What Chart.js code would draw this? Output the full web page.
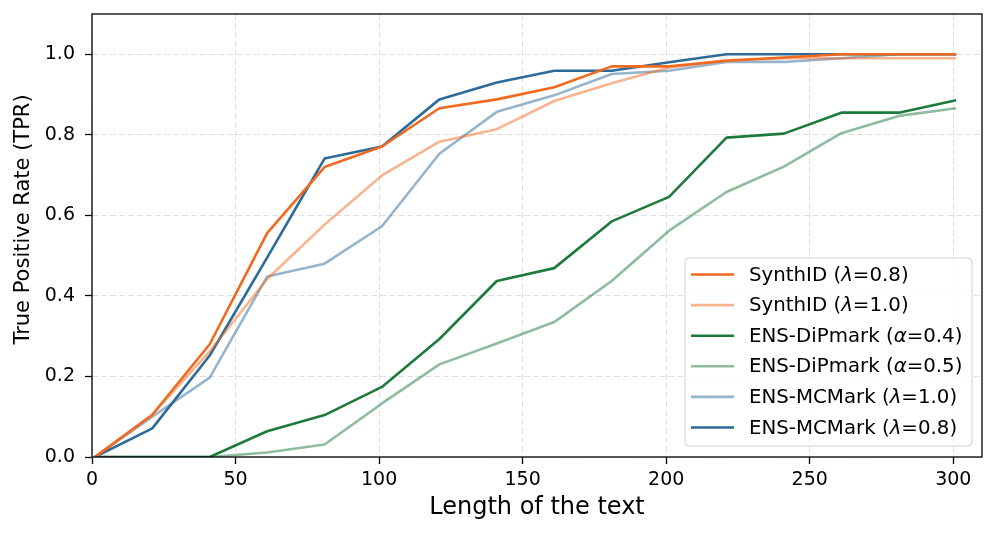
<!DOCTYPE html>
<html>
<head>
<meta charset="utf-8">
<script src="https://cdn.jsdelivr.net/npm/chart.js@4/dist/chart.umd.min.js"></script>
<style>
  html, body { margin: 0; padding: 0; background: #fff; }
  #wrap { width: 997px; height: 536px; position: relative; }
</style>
</head>
<body>
<div id="wrap"><canvas id="c" width="997" height="536"></canvas></div>
<script>
const lengths = [1, 21, 41, 61, 81, 101, 121, 141, 161, 181, 201, 221, 241, 261, 281, 301];
const synthId08 = [0, 0.105, 0.28, 0.556, 0.72, 0.771, 0.866, 0.888, 0.918, 0.97, 0.97, 0.984, 0.992, 1.0, 1.0, 1.0];
const synthId10 = [0, 0.105, 0.262, 0.442, 0.577, 0.699, 0.783, 0.814, 0.884, 0.928, 0.967, 0.985, 0.99, 0.99, 0.99, 0.99];
const dipmark04 = [0, 0, 0, 0.064, 0.104, 0.174, 0.293, 0.437, 0.469, 0.585, 0.646, 0.793, 0.803, 0.855, 0.855, 0.886];
const dipmark05 = [0, 0, 0, 0.011, 0.031, 0.133, 0.23, 0.282, 0.335, 0.437, 0.562, 0.658, 0.721, 0.804, 0.847, 0.866];
const mcmark10 = [0, 0.1, 0.197, 0.448, 0.48, 0.573, 0.753, 0.857, 0.898, 0.951, 0.959, 0.981, 0.981, 0.99, 1.0, 1.0];
const mcmark08 = [0, 0.071, 0.252, 0.495, 0.741, 0.771, 0.888, 0.93, 0.959, 0.959, 0.98, 1.0, 1.0, 1.0, 1.0, 1.0];
const seriesLabels = ['SynthID (λ=0.8)', 'SynthID (λ=1.0)', 'ENS-DiPmark (α=0.4)', 'ENS-DiPmark (α=0.5)', 'ENS-MCMark (λ=1.0)', 'ENS-MCMark (λ=0.8)'];
const xTickValues = [0, 50, 100, 150, 200, 250, 300];
const yTickValues = [0, 0.2, 0.4, 0.6, 0.8, 1.0];
const xTitle = 'Length of the text';
const yTitle = 'True Positive Rate (TPR)';

const seriesValues = [synthId08, synthId10, dipmark04, dipmark05, mcmark10, mcmark08];
const seriesColors = ['rgb(240,105,31)', 'rgba(240,105,31,0.5)', 'rgb(30,122,60)', 'rgba(30,122,60,0.5)', 'rgba(45,106,152,0.5)', 'rgb(45,106,152)'];

const FONT = "'DejaVu Sans', sans-serif";

const datasets = seriesValues.map((vals, i) => ({
  label: seriesLabels[i],
  data: lengths.map((x, j) => ({ x: x, y: vals[j] })),
  borderColor: seriesColors[i],
  backgroundColor: seriesColors[i],
  borderWidth: 2.6,
  pointRadius: 0,
  pointHoverRadius: 0,
  tension: 0,
  fill: false,
  borderCapStyle: 'butt',
  borderJoinStyle: 'round'
}));

const framePlugin = {
  id: 'frame',
  afterDraw(chart) {
    const { ctx, chartArea: a } = chart;
    ctx.save();
    ctx.strokeStyle = '#000';
    ctx.lineWidth = 1.3;
    ctx.strokeRect(a.left, a.top, a.right - a.left, a.bottom - a.top);
    // y axis title
    ctx.translate(24, (a.top + a.bottom) / 2 - 16);
    ctx.rotate(-Math.PI / 2);
    ctx.font = '21px ' + FONT;
    ctx.fillStyle = '#000';
    ctx.textAlign = 'center';
    ctx.textBaseline = 'middle';
    ctx.fillText(yTitle, 0, 0);
    ctx.restore();
  }
};

const legendPlugin = {
  id: 'boxLegend',
  afterDraw(chart) {
    const { ctx, chartArea: a } = chart;
    const fontSize = 19.8;
    const rowH = 30.6;
    const boxW = 287, boxH = 188;
    const bx = a.right - 10 - boxW, by = a.bottom - 11 - boxH;
    ctx.save();
    ctx.beginPath();
    if (ctx.roundRect) ctx.roundRect(bx, by, boxW, boxH, 4); else ctx.rect(bx, by, boxW, boxH);
    ctx.fillStyle = 'rgba(255,255,255,0.8)';
    ctx.fill();
    ctx.strokeStyle = '#d0d0d0';
    ctx.lineWidth = 1;
    ctx.stroke();
    chart.data.datasets.forEach((ds, i) => {
      const cy = by + 16.5 + i * rowH;
      ctx.beginPath();
      ctx.strokeStyle = ds.borderColor;
      ctx.lineWidth = 2.6;
      ctx.moveTo(bx + 6, cy);
      ctx.lineTo(bx + 49, cy);
      ctx.stroke();
      let tx = bx + 64;
      ctx.fillStyle = '#000';
      ctx.textBaseline = 'middle';
      ctx.textAlign = 'left';
      const parts = ds.label.split(/([λα])/);
      parts.forEach(p => {
        if (!p) return;
        const italic = (p === 'λ' || p === 'α');
        ctx.font = (italic ? 'italic ' : '') + fontSize + 'px ' + FONT;
        ctx.fillText(p, tx, cy + 1);
        tx += ctx.measureText(p).width;
      });
    });
    ctx.restore();
  }
};

function zeroPad(axis) {
  axis.paddingTop = 0; axis.paddingBottom = 0;
  axis.paddingLeft = 0; axis.paddingRight = 0;
}

new Chart(document.getElementById('c'), {
  type: 'line',
  data: { datasets },
  options: {
    responsive: false,
    animation: false,
    events: [],
    layout: { padding: { top: 14, right: 15, left: 0, bottom: 0 } },
    plugins: {
      legend: { display: false },
      tooltip: { enabled: false },
      title: { display: false }
    },
    scales: {
      x: {
        type: 'linear',
        min: 0,
        max: 310,
        afterBuildTicks: (axis) => { axis.ticks = xTickValues.map(v => ({ value: v })); },
        afterFit: (axis) => { axis.height = 79; zeroPad(axis); },
        ticks: {
          font: { family: FONT, size: 19 },
          color: '#000',
          padding: 5,
          maxRotation: 0,
          callback: (v) => String(v)
        },
        grid: {
          color: '#e0e0e0',
          lineWidth: 1,
          drawTicks: true,
          tickLength: 7,
          tickColor: '#000',
          tickWidth: 1.3,
          tickBorderDash: []
        },
        border: { display: false, dash: [6, 3] },
        title: {
          display: true,
          text: xTitle,
          font: { family: FONT, size: 24 },
          color: '#000',
          padding: { top: 0, bottom: 14 }
        }
      },
      y: {
        type: 'linear',
        min: 0,
        max: 1.1,
        afterBuildTicks: (axis) => { axis.ticks = yTickValues.map(v => ({ value: v })); },
        afterFit: (axis) => { axis.width = 92; zeroPad(axis); },
        ticks: {
          font: { family: FONT, size: 19 },
          color: '#000',
          padding: 10,
          callback: (v) => Number(v).toFixed(1)
        },
        grid: {
          color: '#e0e0e0',
          lineWidth: 1,
          drawTicks: true,
          tickLength: 7,
          tickColor: '#000',
          tickWidth: 1.3,
          tickBorderDash: []
        },
        border: { display: false, dash: [6, 3] },
        title: { display: false }
      }
    }
  },
  plugins: [framePlugin, legendPlugin]
});
</script>
</body>
</html>
